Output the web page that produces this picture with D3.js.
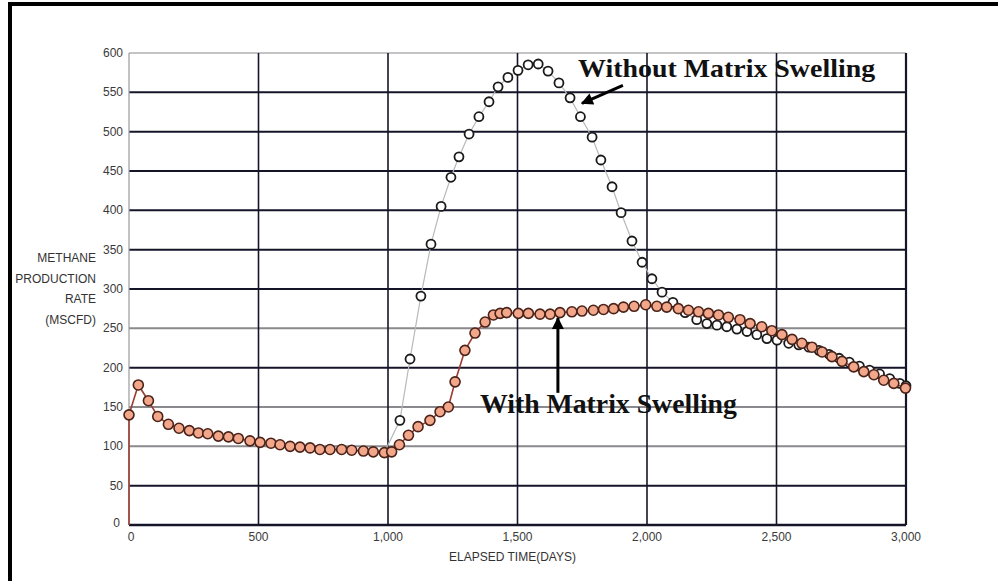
<!DOCTYPE html>
<html>
<head>
<meta charset="utf-8">
<script src="https://cdn.jsdelivr.net/npm/d3@7"></script>
<style>
  body { margin: 0; background: #fff; }
  svg { display: block; }
  .tick-label { font-family: "Liberation Sans", Arial, sans-serif; font-size: 12px; fill: #3a3a3a; }
  .axis-title { font-family: "Liberation Sans", Arial, sans-serif; font-size: 12px; fill: #333; }
  .note { font-family: "Liberation Serif", "Times New Roman", serif; font-weight: bold; fill: #111; }
</style>
</head>
<body>
<svg id="chart" width="998" height="581"></svg>
<script>
// with matrix swelling (orange markers)
let daysWith = [0, 0, 36, 75, 111, 152, 193, 233, 268, 304, 345, 384, 422, 467, 506, 548, 583, 622, 660, 699, 737, 776, 821, 860, 905, 943, 986,
  1014, 1044, 1079, 1116, 1162, 1201, 1233, 1259, 1297, 1336, 1375, 1407, 1433, 1458, 1503, 1542, 1587, 1626, 1664, 1710, 1749, 1793, 1832, 1871,
  1909, 1950, 1995, 2038, 2076, 2121, 2160, 2199, 2237, 2276, 2314, 2359, 2398, 2443, 2482, 2521, 2560, 2598, 2637, 2676, 2714, 2753, 2798,
  2837, 2876, 2914, 2953, 2998];
let rateWith = [0, 140, 178, 158, 138, 128, 123, 120, 117, 116, 113, 112, 110, 107, 105, 104, 102, 100, 99, 98, 96, 96, 96, 95, 94, 93, 92,
  93, 102, 114, 125, 133, 144, 150, 182, 222, 244, 258, 267, 269, 270, 269, 269, 268, 268, 270, 271, 272, 273, 274, 275,
  277, 278, 280, 278, 277, 275, 273, 271, 269, 267, 264, 261, 256, 252, 247, 242, 236, 231, 226, 220, 214, 208, 201,
  195, 191, 184, 180, 174];

// without matrix swelling (open circles), only the part that leaves the orange curve
let daysWithout = [986, 1046, 1085, 1127, 1166, 1205, 1243, 1274, 1313, 1351, 1390, 1425, 1463, 1502, 1541, 1580, 1618, 1660, 1703, 1743, 1788,
  1822, 1865, 1900, 1942, 1981, 2019, 2058, 2100, 2147, 2192, 2231, 2270, 2308, 2347, 2386, 2424, 2463, 2502, 2547, 2586, 2625, 2664,
  2703, 2742, 2781, 2820, 2859, 2898, 2937, 2976, 3000];
let rateWithout = [92, 133, 211, 291, 357, 405, 442, 468, 497, 519, 538, 557, 569, 578, 585, 586, 577, 562, 543, 519, 493,
  464, 430, 397, 361, 334, 313, 296, 283, 270, 261, 256, 254, 252, 249, 246, 242, 237, 235, 231, 229, 226, 222,
  217, 212, 207, 202, 197, 192, 186, 180, 177];

let yTicks = [0, 50, 100, 150, 200, 250, 300, 350, 400, 450, 500, 550, 600];
let yTickLabels = ["0", "50", "100", "150", "200", "250", "300", "350", "400", "450", "500", "550", "600"];
let yLightLines = [100, 150, 250, 600];
let xTicks = [0, 500, 1000, 1500, 2000, 2500, 3000];
let xTickLabels = ["0", "500", "1,000", "1,500", "2,000", "2,500", "3,000"];
let yTitle = ["METHANE", "PRODUCTION", "RATE", "(MSCFD)"];

let svg = d3.select("#chart");
let marge = {top: 53, right: 92, bottom: 56, left: 129};
let largeur = 998 - marge.left - marge.right;
let hauteur = 581 - marge.top - marge.bottom;

let x = d3.scaleLinear().domain([0, 3000]).range([0, largeur]);
let y = d3.scaleLinear().domain([0, 600]).range([hauteur, 0]);

// outer frame (top and left only, like the scan)
svg.append("line").attr("x1", 8).attr("x2", 998).attr("y1", 4).attr("y2", 4)
  .attr("stroke", "#000").attr("stroke-width", 4);
svg.append("line").attr("x1", 10).attr("x2", 10).attr("y1", 2).attr("y2", 581)
  .attr("stroke", "#000").attr("stroke-width", 4);

let g = svg.append("g").attr("transform", `translate(${marge.left},${marge.top})`);

// horizontal grid
g.append("g")
  .selectAll("line")
  .data(yTicks.filter(d => d > 0))
  .join("line")
  .attr("x1", 0).attr("x2", largeur)
  .attr("y1", d => y(d)).attr("y2", d => y(d))
  .attr("stroke", d => yLightLines.includes(d) ? "#8a8a8e" : "#15152a")
  .attr("stroke-width", d => d == 600 ? 1.2 : 2);

// vertical grid
g.append("g")
  .selectAll("line")
  .data(xTicks.filter(d => d > 0))
  .join("line")
  .attr("x1", d => x(d)).attr("x2", d => x(d))
  .attr("y1", 0).attr("y2", hauteur)
  .attr("stroke", "#15152a")
  .attr("stroke-width", d => d == 3000 ? 2.2 : 1.6);

// left axis (thin) and bottom axis (thick)
g.append("line").attr("x1", 0).attr("x2", 0).attr("y1", 0).attr("y2", hauteur)
  .attr("stroke", "#9a9a9a").attr("stroke-width", 1.2);
g.append("line").attr("x1", 0).attr("x2", largeur).attr("y1", hauteur).attr("y2", hauteur)
  .attr("stroke", "#15152a").attr("stroke-width", 2.6);

// tick labels
g.append("g")
  .selectAll("text")
  .data(yTicks)
  .join("text")
  .attr("class", "tick-label")
  .attr("x", d => d == 0 ? -9 : -6)
  .attr("y", d => y(d) + (d == 0 ? 2 : 4))
  .attr("text-anchor", "end")
  .text((d, i) => yTickLabels[i]);

g.append("g")
  .selectAll("text")
  .data(xTicks)
  .join("text")
  .attr("class", "tick-label")
  .attr("x", d => x(d) + (d == 0 ? 2 : 0))
  .attr("y", hauteur + 16)
  .attr("text-anchor", "middle")
  .text((d, i) => xTickLabels[i]);

// axis titles
g.append("text")
  .attr("class", "axis-title")
  .attr("x", largeur / 2 - 5)
  .attr("y", hauteur + 36)
  .attr("text-anchor", "middle")
  .text("ELAPSED TIME(DAYS)");

g.append("g")
  .selectAll("text")
  .data(yTitle)
  .join("text")
  .attr("class", "axis-title")
  .attr("x", -33)
  .attr("y", (d, i) => 209 + i * 20.5)
  .attr("text-anchor", "end")
  .text(d => d);

let ligne = d3.line().x(d => x(d.day)).y(d => y(d.rate));

let sansGonflement = daysWithout.map((d, i) => ({day: d, rate: rateWithout[i]}));
let avecGonflement = daysWith.map((d, i) => ({day: d, rate: rateWith[i]}));

// open circles series
g.append("path")
  .datum(sansGonflement)
  .attr("d", ligne)
  .attr("fill", "none")
  .attr("stroke", "#b8b8b8")
  .attr("stroke-width", 1.2);

g.append("g")
  .selectAll("circle")
  .data(sansGonflement.slice(1))
  .join("circle")
  .attr("cx", d => x(d.day))
  .attr("cy", d => y(d.rate))
  .attr("r", 4.5)
  .attr("fill", "#fff")
  .attr("stroke", "#1a1a1a")
  .attr("stroke-width", 1.8);

// orange series on top
g.append("path")
  .datum(avecGonflement)
  .attr("d", ligne)
  .attr("fill", "none")
  .attr("stroke", "#9c3b30")
  .attr("stroke-width", 1.6);

g.append("g")
  .selectAll("circle")
  .data(avecGonflement.filter(d => d.rate > 0))
  .join("circle")
  .attr("cx", d => x(d.day))
  .attr("cy", d => y(d.rate))
  .attr("r", 5)
  .attr("fill", "#f2a68a")
  .attr("stroke", "#4a2218")
  .attr("stroke-width", 1.6);

// annotations
svg.append("defs").append("marker")
  .attr("id", "fleche")
  .attr("viewBox", "0 0 10 10")
  .attr("refX", 9).attr("refY", 5)
  .attr("markerWidth", 4.5).attr("markerHeight", 4)
  .attr("orient", "auto")
  .append("path")
  .attr("d", "M0,0 L10,5 L0,10 z")
  .attr("fill", "#000");

g.append("text")
  .attr("class", "note")
  .attr("x", x(1734))
  .attr("y", y(569))
  .attr("font-size", 25)
  .attr("textLength", 297)
  .attr("lengthAdjust", "spacingAndGlyphs")
  .text("Without Matrix Swelling");

g.append("line")
  .attr("x1", x(1907)).attr("y1", y(559))
  .attr("x2", x(1749)).attr("y2", y(536))
  .attr("stroke", "#000").attr("stroke-width", 3)
  .attr("marker-end", "url(#fleche)");

g.append("text")
  .attr("class", "note")
  .attr("x", x(1355))
  .attr("y", y(142))
  .attr("font-size", 27)
  .attr("textLength", 257)
  .attr("lengthAdjust", "spacingAndGlyphs")
  .text("With Matrix Swelling");

g.append("line")
  .attr("x1", x(1656)).attr("y1", y(168))
  .attr("x2", x(1656)).attr("y2", y(263))
  .attr("stroke", "#000").attr("stroke-width", 3)
  .attr("marker-end", "url(#fleche)");
</script>
</body>
</html>
